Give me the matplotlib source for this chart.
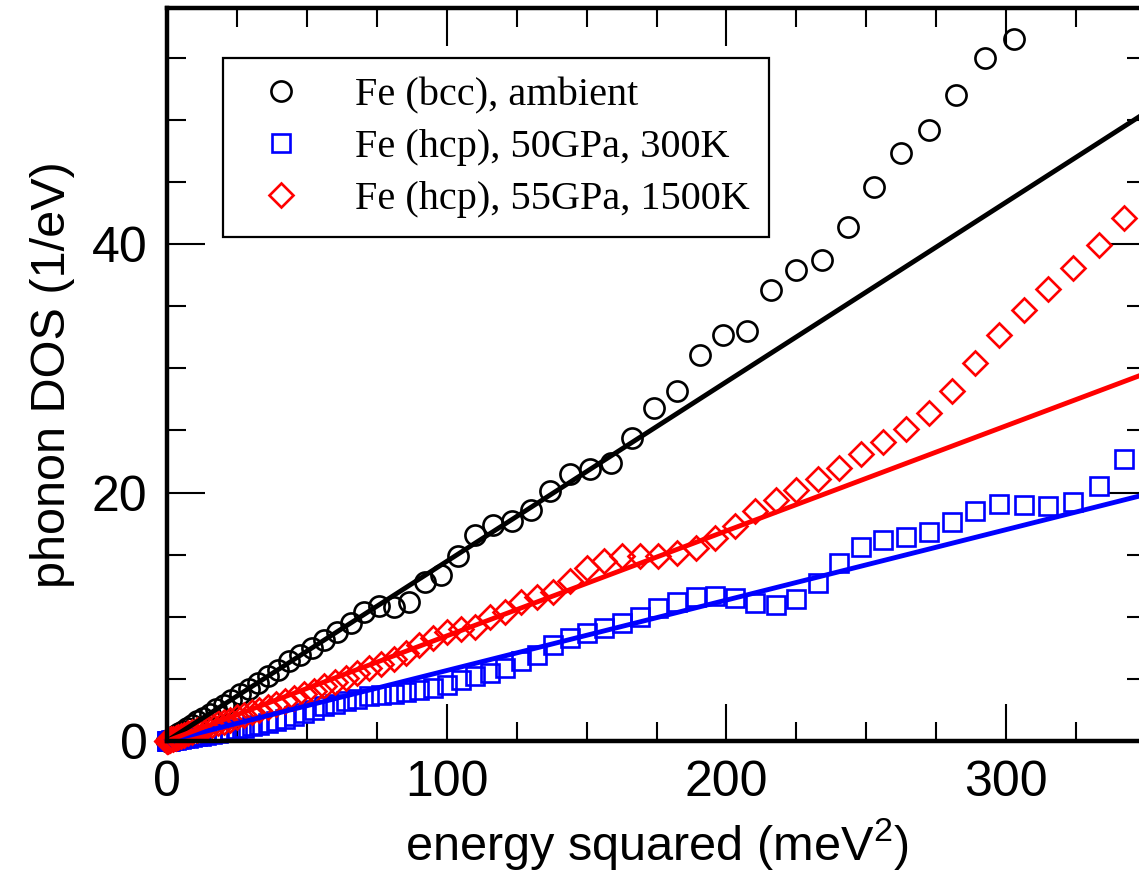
import matplotlib
matplotlib.use("Agg")
import matplotlib.pyplot as plt
from matplotlib.ticker import MultipleLocator

plt.rcParams['font.family'] = ['Liberation Sans', 'DejaVu Sans']
plt.rcParams['mathtext.default'] = 'regular'

# energy squared (meV^2), bcc data on a 0.3 meV grid
bcc_e2 = [0.0, 0.09, 0.36, 0.81, 1.44, 2.25, 3.24, 4.41, 5.76, 7.29, 9.0, 10.89,
          12.96, 15.21, 17.64, 20.25, 23.04, 26.01, 29.16, 32.49, 36.0, 39.69,
          43.56, 47.61, 51.84, 56.25, 60.84, 65.61, 70.56, 75.69, 81.0, 86.49,
          92.16, 98.01, 104.04, 110.25, 116.64, 123.21, 129.96, 136.89, 144.0,
          151.29, 158.76, 166.41, 174.24, 182.25, 190.44, 198.81, 207.36, 216.09,
          225.0, 234.09, 243.36, 252.81, 262.44, 272.25, 282.24, 292.41, 302.76]
bcc_dos = [0.0, 0.02, 0.06, 0.12, 0.2, 0.32, 0.46, 0.63, 0.82, 1.05, 1.3, 1.58,
           1.88, 2.2, 2.55, 2.93, 3.33, 3.76, 4.2, 4.7, 5.2, 5.75,
           6.4, 6.9, 7.5, 8.1, 8.8, 9.5, 10.4, 10.9, 10.8, 11.2,
           12.8, 13.4, 14.9, 16.6, 17.4, 17.7, 18.6, 20.1, 21.5,
           21.9, 22.4, 24.4, 26.8, 28.2, 31.1, 32.7, 33.0, 36.3,
           37.9, 38.7, 41.4, 44.6, 47.3, 49.2, 52.0, 55.0, 56.5]

# hcp data on a 0.25 meV grid
hcp_e2 = [0.0, 0.0625, 0.25, 0.5625, 1.0, 1.5625, 2.25, 3.0625, 4.0, 5.0625,
          6.25, 7.5625, 9.0, 10.5625, 12.25, 14.0625, 16.0, 18.0625, 20.25,
          22.5625, 25.0, 27.5625, 30.25, 33.0625, 36.0, 39.0625, 42.25, 45.5625,
          49.0, 52.5625, 56.25, 60.0625, 64.0, 68.0625, 72.25, 76.5625, 81.0,
          85.5625, 90.25, 95.0625, 100.0, 105.0625, 110.25, 115.5625, 121.0,
          126.5625, 132.25, 138.0625, 144.0, 150.0625, 156.25, 162.5625, 169.0,
          175.5625, 182.25, 189.0625, 196.0, 203.0625, 210.25, 217.5625, 225.0,
          232.5625, 240.25, 248.0625, 256.0, 264.0625, 272.25, 280.5625, 289.0,
          297.5625, 306.25, 315.0625, 324.0, 333.0625, 342.25]
hcp300_dos = [0.0, 0.0, 0.01, 0.02, 0.03, 0.05, 0.07, 0.1, 0.13, 0.17,
              0.21, 0.26, 0.31, 0.37, 0.43, 0.5, 0.58, 0.66, 0.75,
              0.85, 0.95, 1.06, 1.17, 1.3, 1.45, 1.62, 1.8, 2.0,
              2.25, 2.5, 2.8, 3.0, 3.2, 3.4, 3.6, 3.7, 3.8,
              3.95, 4.1, 4.25, 4.5, 4.9, 5.2, 5.5, 5.9,
              6.4, 6.9, 7.7, 8.3, 8.7, 9.1, 9.5, 10.0,
              10.7, 11.2, 11.6, 11.7, 11.5, 11.1, 10.95, 11.45,
              12.7, 14.3, 15.6, 16.2, 16.4, 16.8, 17.6, 18.5,
              19.05, 19.0, 18.95, 19.25, 20.5, 22.7]
hcp1500_dos = [0.0, 0.005, 0.02, 0.045, 0.08, 0.13, 0.18, 0.25, 0.32, 0.41,
               0.5, 0.61, 0.73, 0.86, 1.0, 1.15, 1.3, 1.44, 1.55,
               1.72, 1.92, 2.1, 2.3, 2.5, 2.75, 2.98, 3.2, 3.45,
               3.75, 4.05, 4.4, 4.75, 5.1, 5.45, 5.85, 6.2, 6.6,
               7.1, 7.7, 8.3, 8.8, 9.0, 9.2, 10.0, 10.4,
               11.2, 11.6, 12.0, 12.85, 13.9, 14.5, 14.9, 14.9,
               14.9, 15.1, 15.5, 16.3, 17.3, 18.5, 19.4, 20.2,
               21.1, 22.0, 23.1, 24.1, 25.1, 26.4, 28.2, 30.4,
               32.7, 34.7, 36.4, 38.1, 39.9, 42.1]

# linear (Debye) fits
fit_e2 = [0.0, 350.0]
bcc_fit = [0.0, 50.6]
hcp300_fit = [0.0, 19.85]
hcp1500_fit = [0.0, 29.6]

labels = ["Fe (bcc), ambient", "Fe (hcp), 50GPa, 300K", "Fe (hcp), 55GPa, 1500K"]

fig = plt.figure(figsize=(11.39, 8.71), dpi=100)
ax = fig.add_axes([167 / 1139, 130 / 871, 979 / 1139, 733 / 871])

mk = dict(linestyle='none', markerfacecolor='none', markeredgewidth=1.9, clip_on=False)
h1, = ax.plot(bcc_e2, bcc_dos, marker='o', markersize=14.5, markeredgecolor='black',
              label=labels[0], **mk)
h2, = ax.plot(hcp_e2, hcp300_dos, marker='s', markersize=13.0, markeredgecolor='#0000ff',
              label=labels[1], **mk)
h3, = ax.plot(hcp_e2, hcp1500_dos, marker='D', markersize=12.5, markeredgecolor='#ff0000',
              label=labels[2], **mk)

ax.plot(fit_e2, bcc_fit, color='black', lw=3.5)
ax.plot(fit_e2, hcp300_fit, color='#0000ff', lw=3.5)
ax.plot(fit_e2, hcp1500_fit, color='#ff0000', lw=3.5)

ax.set_xlim(0, 350)
ax.set_ylim(0, 59)
ax.xaxis.set_major_locator(MultipleLocator(100))
ax.xaxis.set_minor_locator(MultipleLocator(25))
ax.yaxis.set_major_locator(MultipleLocator(20))
ax.yaxis.set_minor_locator(MultipleLocator(5))

ax.tick_params(which='both', direction='in', top=True, right=True, width=1.5,
               labelsize=36, pad=14)
ax.tick_params(which='major', length=27)
ax.tick_params(which='minor', length=14)
for sp in ax.spines.values():
    sp.set_linewidth(3.2)

ax.set_xlabel("energy squared (meV$^2$)", fontsize=35, labelpad=7)
ax.set_ylabel("phonon DOS (1/eV)", fontsize=35, labelpad=12)

leg = ax.legend(handles=[h1, h2, h3], loc='upper left', bbox_to_anchor=(0.0572, 0.9318),
                borderaxespad=0, frameon=True, fancybox=False, shadow=False,
                prop={'family': 'Liberation Serif', 'size': 29},
                borderpad=0.47, handlelength=1.94, handletextpad=0.87, labelspacing=0.37)
leg.get_frame().set_edgecolor('black')
leg.get_frame().set_linewidth(1.6)
leg.get_frame().set_alpha(1)

fig.savefig('out.png', dpi=100)
